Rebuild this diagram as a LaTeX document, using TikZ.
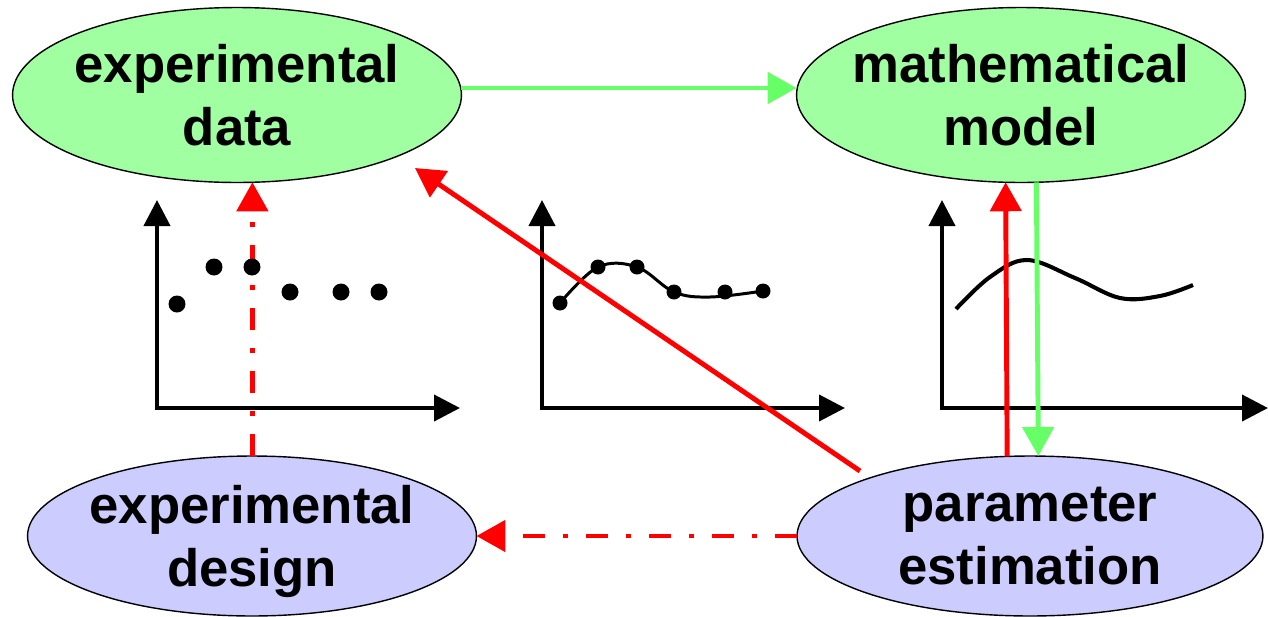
\documentclass[tikz,border=0pt]{standalone}
\usepackage{fontspec}
\setmainfont{Liberation Sans}
\usetikzlibrary{arrows.meta,shapes.geometric}
\definecolor{lgreen}{HTML}{A0FFA0}
\definecolor{agreen}{HTML}{66FF66}
\definecolor{lblue}{HTML}{CCCCFF}
\newcommand{\zl}[1]{\makebox[0pt]{\raisebox{0pt}[\height][0pt]{#1}}}
\begin{document}
\begin{tikzpicture}[x=0.02cm,y=-0.02cm,
  box/.style={ellipse,draw=black,line width=0.8pt,inner sep=0pt,outer sep=0pt,align=center,font=\fontsize{30}{36}\selectfont\bfseries},
  greenbox/.style={box,fill=lgreen,minimum width=8.98cm,minimum height=3.5cm},
  bluebox/.style={box,fill=lblue,minimum height=3.2cm},
  flow/.style={line width=2.8pt,-{Triangle[length=0.58cm,width=0.62cm]}},
  gflow/.style={flow,color=agreen},
  rflow/.style={flow,color=red},
  dashdot/.style={dash pattern=on 0.44cm off 0.36cm on 0.1cm off 0.36cm},
  axis/.style={line width=2.3pt,{Triangle[length=0.52cm,width=0.52cm]}-{Triangle[length=0.52cm,width=0.52cm]}},
  thincurve/.style={line width=1.7pt},
  thickcurve/.style={line width=2.3pt}
]
\useasboundingbox (0,0) rectangle (1268,616);

% nodes
\node[greenbox] (ed) at (237,95) {\zl{experimental}\\\zl{data}};
\node[greenbox] (mm) at (1021,95) {\zl{mathematical}\\\zl{model}};
\node[bluebox,minimum width=8.98cm] (dd) at (252,536) {\zl{experimental}\\\zl{design}};
\node[bluebox,minimum width=9.32cm] (pe) at (1030,536) {\zl{parameter}\\\zl{estimation}};

% graph 1
\draw[axis] (157,200) -- (157,408) -- (460,408);
% graph 2
\draw[axis] (542,200) -- (542,408) -- (845,408);
\draw[thincurve] plot[smooth,tension=0.6] coordinates {(560,303) (598,267) (637,267) (674,292) (710,297) (763,291)};
\foreach \p in {(560,303),(598,267),(637,267),(674,292),(725,292),(763,291)}
  \fill \p circle[radius=0.15cm];
% graph 3
\draw[axis] (942,200) -- (942,408) -- (1268,408);
\draw[thickcurve] plot[smooth,tension=0.6] coordinates {(956,309) (990,277) (1027,260) (1075,278) (1120,298) (1160,296) (1193,285)};

% connectors
\draw[gflow] ([yshift=0.14cm]ed.east) -- ([yshift=0.14cm]mm.west);
\draw[gflow] (mm.280.9) -- (pe.84.3);
\draw[rflow] (pe.106.8) -- (mm.260.3);
\draw[rflow,dashdot] (dd.north -| ed.280.4) -- (ed.280.4);
\draw[rflow,dashdot] (pe.west) -- (dd.east);
\path (pe.center) ++(-170,-65) coordinate (rdA);
\path (ed.center) ++(178,73) coordinate (rdB);
\draw[rflow] (rdA) -- (rdB);

% graph 1 dots
\foreach \p in {(177,304),(214,267),(252,267),(290,292),(341,292),(379,292)}
  \fill \p circle[radius=0.17cm];
\end{tikzpicture}
\end{document}
